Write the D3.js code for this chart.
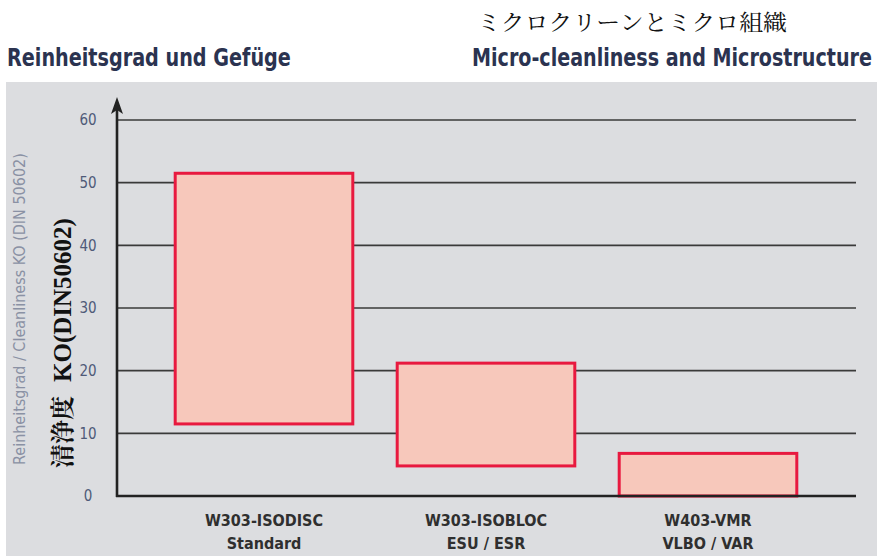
<!DOCTYPE html>
<html>
<head>
<meta charset="utf-8">
<script src="https://cdn.jsdelivr.net/npm/d3@7"></script>
<style>
  html, body { margin: 0; padding: 0; background: #fff; }
  svg { display: block; }
</style>
</head>
<body>
<svg id="chart"></svg>
<script>
// Reinheitsgrad / cleanliness ranges per production route
const categories = ['W303-ISODISC', 'W303-ISOBLOC', 'W403-VMR'];
const subLabels = ['Standard', 'ESU / ESR', 'VLBO / VAR'];
const lowValues = [11.5, 4.8, 0];
const highValues = [51.5, 21.2, 6.8];
const yTicks = [0, 10, 20, 30, 40, 50, 60];

const width = 877;
const height = 556;
const condensed = '"Liberation Sans Narrow", "DejaVu Sans Condensed", "Open Sans", sans-serif';

const svg = d3.select('#chart')
  .attr('width', width)
  .attr('height', height);

// squeeze a text horizontally so it spans the given width
function fitText(sel, x, y, w, rotate) {
  const natural = sel.node().getComputedTextLength();
  const sx = w / natural;
  sel.attr('transform', `translate(${x},${y})${rotate ? ' rotate(-90)' : ''} scale(${sx},1)`);
}

// gray panel
svg.append('rect')
  .attr('x', 6)
  .attr('y', 82)
  .attr('width', width - 6)
  .attr('height', height - 82)
  .style('fill', '#dcdde0');

// titles
const jp = svg.append('text')
  .style('font-family', '"Noto Serif CJK JP", "Noto Sans CJK JP", serif')
  .style('font-size', '22px')
  .style('fill', '#111')
  .text('ミクロクリーンとミクロ組織');
fitText(jp, 477, 30, 310);

const deTitle = svg.append('text')
  .style('font-family', condensed)
  .style('font-weight', 'bold')
  .style('font-size', '24px')
  .style('fill', '#2b3350')
  .text('Reinheitsgrad und Gefüge');
fitText(deTitle, 7, 66, 284);

const enTitle = svg.append('text')
  .style('font-family', condensed)
  .style('font-weight', 'bold')
  .style('font-size', '24px')
  .style('fill', '#2b3350')
  .text('Micro-cleanliness and Microstructure');
fitText(enTitle, 472, 66, 400);

// scales
const xScale = d3.scaleBand()
  .domain(categories)
  .range([153, 819])
  .paddingInner(0.2)
  .paddingOuter(0.1);

const yScale = d3.scaleLinear()
  .domain([0, 60])
  .range([496, 120]);

const x0 = 117;
const x1 = 856;

// grid lines
svg.append('g')
  .selectAll('line')
  .data(yTicks.filter(d => d > 0))
  .enter()
  .append('line')
  .attr('x1', x0)
  .attr('x2', x1)
  .attr('y1', d => yScale(d))
  .attr('y2', d => yScale(d))
  .style('stroke', '#3a3a3a')
  .style('stroke-width', 1.6);

// y tick labels
svg.append('g')
  .selectAll('text')
  .data(yTicks)
  .enter()
  .append('text')
  .attr('x', 88)
  .attr('y', d => yScale(d))
  .attr('dy', '0.35em')
  .attr('text-anchor', 'middle')
  .style('font-family', condensed)
  .style('font-size', '15px')
  .style('fill', '#4f5a78')
  .text(d => d);

// range bars
const bars = [0, 1, 2];
svg.append('g')
  .selectAll('rect')
  .data(bars)
  .enter()
  .append('rect')
  .attr('x', i => xScale(categories[i]))
  .attr('y', i => yScale(highValues[i]))
  .attr('width', xScale.bandwidth())
  .attr('height', i => yScale(lowValues[i]) - yScale(highValues[i]))
  .style('fill', '#f7c8bb')
  .style('stroke', '#e8193f')
  .style('stroke-width', 3);

// x axis line
svg.append('line')
  .attr('x1', x0 - 1)
  .attr('x2', x1)
  .attr('y1', yScale(0))
  .attr('y2', yScale(0))
  .style('stroke', '#222')
  .style('stroke-width', 2.6);

// y axis line with arrow
svg.append('line')
  .attr('x1', x0)
  .attr('x2', x0)
  .attr('y1', yScale(0) + 1)
  .attr('y2', 108)
  .style('stroke', '#222')
  .style('stroke-width', 2.6);

svg.append('path')
  .attr('d', `M${x0},97 L${x0 + 6},114 L${x0},110 L${x0 - 6},114 Z`)
  .style('fill', '#222');

// category labels
const catLabels = svg.append('g')
  .selectAll('text')
  .data(bars)
  .enter()
  .append('text')
  .attr('x', i => xScale(categories[i]) + xScale.bandwidth() / 2)
  .attr('text-anchor', 'middle')
  .style('font-family', condensed)
  .style('font-weight', 'bold')
  .style('font-size', '16px')
  .style('fill', '#2f2f2f');

catLabels.append('tspan')
  .attr('x', i => xScale(categories[i]) + xScale.bandwidth() / 2)
  .attr('y', 526)
  .text(i => categories[i]);

catLabels.append('tspan')
  .attr('x', i => xScale(categories[i]) + xScale.bandwidth() / 2)
  .attr('y', 549)
  .text(i => subLabels[i]);

// y axis titles
const grayTitle = svg.append('text')
  .style('font-family', condensed)
  .style('font-size', '15px')
  .style('fill', '#8a91a4')
  .text('Reinheitsgrad / Cleanliness KO (DIN 50602)');
fitText(grayTitle, 25, 465, 312, true);

const jpTitle = svg.append('text')
  .attr('transform', 'translate(71,468) rotate(-90)')
  .style('font-size', '24px')
  .style('fill', '#111');

jpTitle.append('tspan')
  .style('font-family', '"Noto Serif CJK JP", "Noto Sans CJK JP", serif')
  .style('font-weight', 'bold')
  .text('清浄度');

jpTitle.append('tspan')
  .attr('dx', 14)
  .style('font-family', '"Liberation Serif", "DejaVu Serif", serif')
  .style('font-weight', 'bold')
  .style('font-size', '25px')
  .text('KO(DIN50602)');
</script>
</body>
</html>
